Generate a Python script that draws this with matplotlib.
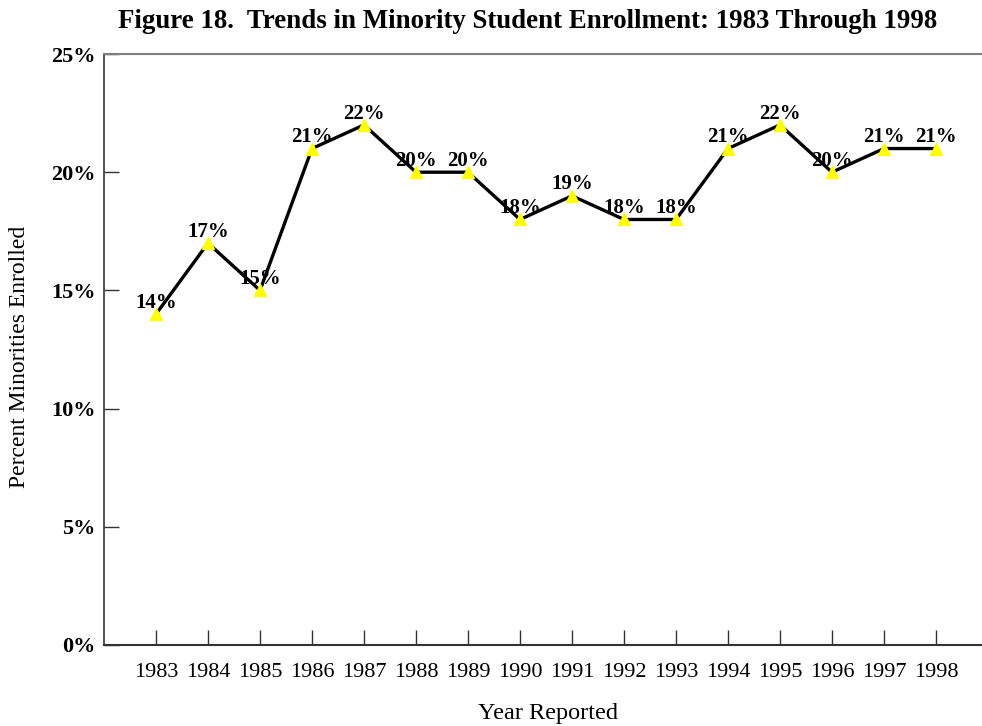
import matplotlib
matplotlib.use("Agg")
import matplotlib.pyplot as plt
from matplotlib.ticker import FuncFormatter

years = [1983, 1984, 1985, 1986, 1987, 1988, 1989, 1990, 1991, 1992, 1993, 1994, 1995, 1996, 1997, 1998]
pct = [14, 17, 15, 21, 22, 20, 20, 18, 19, 18, 18, 21, 22, 20, 21, 21]
yticks = [0, 5, 10, 15, 20, 25]

plt.rcParams['font.family'] = ['Liberation Serif', 'DejaVu Serif']

W, H = 982, 726
fig = plt.figure(figsize=(W / 100, H / 100), dpi=100)
ax = fig.add_axes([104 / W, 1 - 645 / H, (982 - 104) / W, (645 - 54) / H])

ax.plot(years, pct, color='black', lw=2.4, zorder=2)
ax.plot(years, pct, linestyle='none', marker='^', markersize=8,
        markerfacecolor='#ffff00', markeredgecolor='#ffff00', zorder=3)
for x, y in zip(years, pct):
    ax.annotate(f"{y}%", (x, y), xytext=(0, 1), textcoords='offset points',
                ha='center', va='bottom', fontsize=15, fontweight='bold', zorder=4)

ax.set_xlim(1982, 1982 + (982 - 104) / 52)
ax.set_ylim(0, 25)
ax.set_xticks(years)
ax.set_xticklabels([str(y) for y in years], fontsize=16)
ax.set_yticks(yticks)
ax.yaxis.set_major_formatter(FuncFormatter(lambda v, p: f"{int(v)}%"))
for lab in ax.get_yticklabels():
    lab.set_fontweight('bold')
    lab.set_fontsize(16)
ax.tick_params(axis='both', direction='in', length=11, width=1, color='#333333')
ax.tick_params(axis='x', pad=13)
ax.tick_params(axis='y', pad=6)

ax.spines['right'].set_visible(False)
ax.spines['top'].set_color('#808080')
ax.spines['top'].set_linewidth(1.5)
ax.spines['left'].set_color('#333333')
ax.spines['bottom'].set_color('#333333')
ax.spines['left'].set_linewidth(1.2)
ax.spines['bottom'].set_linewidth(1.5)

fig.text(528 / W, 1 - 22 / H, "Figure 18.  Trends in Minority Student Enrollment: 1983 Through 1998",
         ha='center', va='center', fontsize=19.4, fontweight='bold')
fig.text(548 / W, 1 - 713 / H, "Year Reported", ha='center', va='center', fontsize=17.5)
fig.text(20 / W, 1 - 357 / H, "Percent Minorities Enrolled", ha='center', va='center',
         rotation=90, fontsize=17)

fig.savefig("out.png", dpi=100)
